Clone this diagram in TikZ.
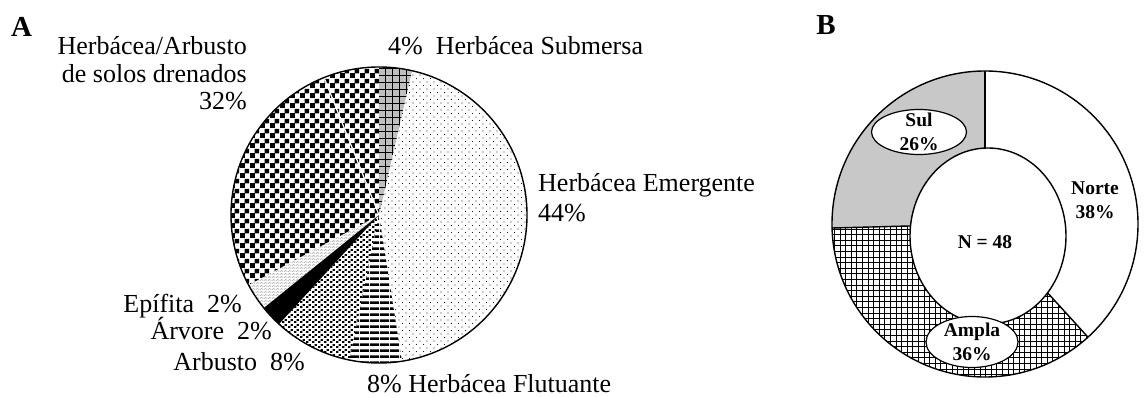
\documentclass[tikz,border=0pt]{standalone}
\usepackage{fontspec}
\setmainfont{Liberation Serif}
\usetikzlibrary{patterns,shapes.geometric}
\pgfdeclarepatternformonly{bigchecker}{\pgfqpoint{0pt}{0pt}}{\pgfqpoint{10pt}{10pt}}{\pgfqpoint{10pt}{10pt}}{%
  \pgfpathrectangle{\pgfqpoint{0pt}{0pt}}{\pgfqpoint{5.3pt}{5.3pt}}%
  \pgfpathrectangle{\pgfqpoint{5pt}{5pt}}{\pgfqpoint{5pt}{5pt}}%
  \pgfusepath{fill}}
\pgfdeclarepatternformonly{sparsedots}{\pgfqpoint{-1pt}{-1pt}}{\pgfqpoint{7pt}{7pt}}{\pgfqpoint{7pt}{7pt}}{%
  \pgfpathcircle{\pgfqpoint{0pt}{0pt}}{0.7pt}%
  \pgfpathcircle{\pgfqpoint{3.5pt}{3.5pt}}{0.7pt}%
  \pgfusepath{fill}}
\pgfdeclarepatternformonly{thicklines}{\pgfqpoint{0pt}{0pt}}{\pgfqpoint{10pt}{5.6pt}}{\pgfqpoint{10pt}{5.6pt}}{%
  \pgfpathrectangle{\pgfqpoint{0pt}{0pt}}{\pgfqpoint{10pt}{2.9pt}}%
  \pgfusepath{fill}}
\pgfdeclarepatternformonly{specks}{\pgfqpoint{0pt}{0pt}}{\pgfqpoint{6pt}{5pt}}{\pgfqpoint{6pt}{5pt}}{%
  \pgfpathrectangle{\pgfqpoint{0pt}{0pt}}{\pgfqpoint{2.7pt}{2.1pt}}%
  \pgfpathrectangle{\pgfqpoint{3pt}{2.5pt}}{\pgfqpoint{2.7pt}{2.1pt}}%
  \pgfusepath{fill}}
\pgfdeclarepatternformonly{lightwave}{\pgfqpoint{0pt}{0pt}}{\pgfqpoint{4pt}{3pt}}{\pgfqpoint{4pt}{3pt}}{%
  \pgfsetlinewidth{0.6pt}%
  \pgfpathmoveto{\pgfqpoint{0pt}{0.8pt}}\pgfpathlineto{\pgfqpoint{2pt}{1.8pt}}\pgfpathlineto{\pgfqpoint{4pt}{0.8pt}}%
  \pgfusepath{stroke}}
\pgfdeclarepatternformonly{gridseven}{\pgfqpoint{-0.5pt}{-0.5pt}}{\pgfqpoint{7pt}{7pt}}{\pgfqpoint{7pt}{7pt}}{%
  \pgfsetlinewidth{0.6pt}%
  \pgfpathmoveto{\pgfqpoint{-0.5pt}{0pt}}\pgfpathlineto{\pgfqpoint{7pt}{0pt}}%
  \pgfpathmoveto{\pgfqpoint{0pt}{-0.5pt}}\pgfpathlineto{\pgfqpoint{0pt}{7pt}}%
  \pgfusepath{stroke}}
\pgfdeclarepatternformonly{gridfive}{\pgfqpoint{-0.6pt}{-0.6pt}}{\pgfqpoint{5.6pt}{5.6pt}}{\pgfqpoint{5.6pt}{5.6pt}}{%
  \pgfsetlinewidth{0.9pt}%
  \pgfpathmoveto{\pgfqpoint{-0.6pt}{0pt}}\pgfpathlineto{\pgfqpoint{5.6pt}{0pt}}%
  \pgfpathmoveto{\pgfqpoint{0pt}{-0.6pt}}\pgfpathlineto{\pgfqpoint{0pt}{5.6pt}}%
  \pgfusepath{stroke}}
\definecolor{sulgray}{RGB}{200,200,200}
\newcommand\pieA[4][]{\path[#1] (CA) -- ++(#2:#4) arc[start angle=#2, end angle=#3, radius=#4] -- cycle;}
\newcommand\pieB[4][]{\path[#1] (CB) -- ++(#2:#4) arc[start angle=#2, end angle=#3, radius=#4] -- cycle;}
\begin{document}
\begin{tikzpicture}[x=1pt,y=1pt,
  lab/.style={font=\fontsize{26}{28}\selectfont, inner sep=0pt},
  panel/.style={font=\bfseries\fontsize{29}{30}\selectfont, inner sep=0pt, anchor=base},
  blab/.style={font=\bfseries\fontsize{19.5}{24}\selectfont, inner sep=0pt, align=center},
  outline/.style={line width=1.4pt},
  oval/.style={ellipse, draw, line width=1.2pt, fill=white, inner sep=0pt}]
\useasboundingbox (0,0) rectangle (1144,397);
% ---------- panel A ----------
\coordinate (CA) at (379,182);
\pieA[fill=gray!50]{90}{77.1}{148}
\pieA[pattern=gridseven]{90}{77.1}{148}
\pieA[pattern=sparsedots, pattern color=black!85]{77.1}{-81.1}{148}
\pieA[pattern=thicklines]{-81.1}{-101.5}{148}
\pieA[pattern=specks]{-101.5}{-132.5}{148}
\pieA[fill=black]{-132.5}{-141.1}{148}
\pieA[pattern=lightwave, pattern color=gray]{-141.1}{-151.8}{148}
\pieA[pattern=bigchecker]{-151.8}{-270}{148}
\draw[white, line width=1.2pt] (CA) -- ++(111.8:148);
\draw[outline] (CA) circle[radius=148];
\node[panel] (labA) at (21.5,360.5) {A};
\node[lab, anchor=base east] (hab1) at (247,342) {Herbácea/Arbusto};
\node[lab, anchor=base east] (hab2) at (247,314.3) {de solos drenados};
\node[lab, anchor=base east] (hab3) at (247,287) {32\%};
\node[lab, anchor=base west] (sub) at (388,342) {4\%\ \ Herbácea Submersa};
\node[lab, anchor=base west] (eme1) at (538,205.3) {Herbácea Emergente};
\node[lab, anchor=base west] (eme2) at (538,175.3) {44\%};
\node[lab, anchor=base east] (epi) at (242,85) {Epífita\ \ 2\%};
\node[lab, anchor=base east] (arv) at (272,57.5) {Árvore\ \ 2\%};
\node[lab, anchor=base east] (arb) at (305,26.3) {Arbusto\ \ 8\%};
\node[lab, anchor=base west] (flu) at (367,4.5) {8\% Herbácea Flutuante};
% ---------- panel B ----------
\coordinate (CB) at (985,173);
\coordinate (CI) at (988,161);
\pieB[fill=sulgray]{90}{181.5}{153}
\pieB[pattern=gridfive]{181.5}{312.3}{153}
\draw[outline] (CB) -- ++(90:153);
\draw[outline] (CB) -- ++(181.5:153);
\draw[outline] (CB) -- ++(312.3:153);
\draw[outline, fill=white] (CI) ellipse[x radius=78, y radius=88];
\draw[outline] (CB) circle[radius=153];
\node[panel] (labB) at (826,362) {B};
\node[oval, minimum width=95pt, minimum height=45pt] (sul) at (919,265) {};
\node[blab] at (sul) {Sul\\26\%};
\node[oval, minimum width=92pt, minimum height=51pt] (ampla) at (972,55) {};
\node[blab] at (ampla) {Ampla\\36\%};
\node[blab] (norte) at (1095,197) {Norte\\38\%};
\node[blab] (nn) at (985,155) {N = 48};
\end{tikzpicture}
\end{document}
